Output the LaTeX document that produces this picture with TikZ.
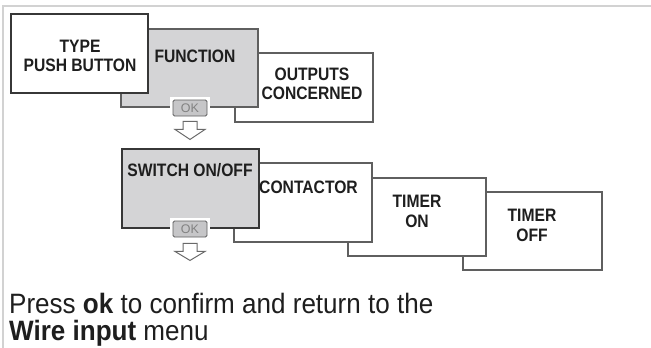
\documentclass[tikz,border=0pt]{standalone}
\usepackage{fontspec}
\setmainfont{Liberation Sans}
\newfontfamily\lblfont[FakeStretch=0.87]{Liberation Sans}
\newfontfamily\txtfont[FakeStretch=0.93]{Liberation Sans}
\usetikzlibrary{calc}
\definecolor{boxgrey}{RGB}{212,212,214}
\definecolor{edgedark}{RGB}{55,55,55}
\definecolor{edgemid}{RGB}{95,95,95}
\definecolor{framegrey}{RGB}{210,210,210}
\definecolor{okfill}{RGB}{198,198,200}
\definecolor{oktext}{RGB}{130,130,130}
\definecolor{arrowedge}{RGB}{105,105,105}
\definecolor{inktext}{RGB}{30,30,30}
\begin{document}
\begin{tikzpicture}[x=1pt,y=-1pt,
  panel/.style={draw=edgemid, line width=1.1pt, fill=white, minimum width=138pt,
    minimum height=79pt, anchor=north west, inner sep=0pt, outer sep=0pt},
  greypanel/.style={panel, fill=boxgrey},
  strongpanel/.style={draw=edgedark, line width=1.8pt},
  lbl/.style={inner sep=0pt, align=center, text=inktext,
    font=\lblfont\bfseries\fontsize{18}{19}\selectfont},
  lbltwo/.style={lbl, font=\lblfont\bfseries\fontsize{18}{20.5}\selectfont},
  okgap/.style={fill=white, minimum width=40pt, minimum height=22pt, inner sep=0pt},
  okbtn/.style={draw=edgemid, fill=okfill, line width=0.9pt, rounded corners=1.5pt,
    minimum width=34pt, minimum height=16pt, inner sep=0pt, text=oktext,
    font=\fontsize{12.5}{12.5}\selectfont},
  downarrow/.style={draw=arrowedge, fill=white, line width=1pt, line join=miter},
  msg/.style={anchor=base west, inner sep=0pt, text=inktext,
    font=\txtfont\fontsize{28}{28}\selectfont}
]
\useasboundingbox (0,0) rectangle (651,348);
\fill[white] (0,0) rectangle (651,348);
\draw[framegrey, line width=1.6pt] (3,348) -- (3,6) -- (651,6);

% row 1
\node[panel, minimum height=69pt] (outputs) at (235,53) {};
\node[greypanel, minimum width=137pt, minimum height=78pt] (function) at (121,29) {};
\node[okgap] (gapa) at (190,108) {};
\node[okbtn] (oka) at (gapa) {OK};
\node[panel, strongpanel, minimum width=137pt] (type) at (11,14) {};

\node[lbl] (ttype) at (80,56) {TYPE\\PUSH BUTTON};
\node[lbl] (tfunction) at (195,56.5) {FUNCTION};
\node[lbl] (toutputs) at (312,84) {OUTPUTS\\CONCERNED};

\draw[downarrow] ($(oka.south)+(-7,5)$) -- ($(oka.south)+(7,5)$) -- ($(oka.south)+(7,13)$)
  -- ($(oka.south)+(15,13)$) -- ($(oka.south)+(0,23)$) -- ($(oka.south)+(-15,13)$)
  -- ($(oka.south)+(-7,13)$) -- cycle;

% row 2
\node[panel, minimum width=139pt, minimum height=78pt] (timeroff) at (463,192) {};
\node[panel, minimum height=78pt] (timeron) at (348,178) {};
\node[panel] (contactor) at (234,163) {};
\node[greypanel, strongpanel, minimum width=137pt] (switch) at (122,149) {};
\node[okgap] (gapb) at (190,229) {};
\node[okbtn] (okb) at (gapb) {OK};

\node[lbl] (tswitch) at (190,170) {SWITCH ON/OFF};
\node[lbl] (tcontactor) at (308.5,187.5) {CONTACTOR};
\node[lbltwo] (ttimeron) at (417,211.5) {TIMER\\ON};
\node[lbltwo] (ttimeroff) at (532,225.5) {TIMER\\OFF};

\draw[downarrow] ($(okb.south)+(-7,6)$) -- ($(okb.south)+(7,6)$) -- ($(okb.south)+(7,14)$)
  -- ($(okb.south)+(15,14)$) -- ($(okb.south)+(0,23)$) -- ($(okb.south)+(-15,14)$)
  -- ($(okb.south)+(-7,14)$) -- cycle;

% message
\node[msg] (msga) at (9,313) {Press \textbf{ok} to confirm and return to the};
\node[msg] (msgb) at (9,340) {\textbf{Wire input} menu};
\end{tikzpicture}
\end{document}
